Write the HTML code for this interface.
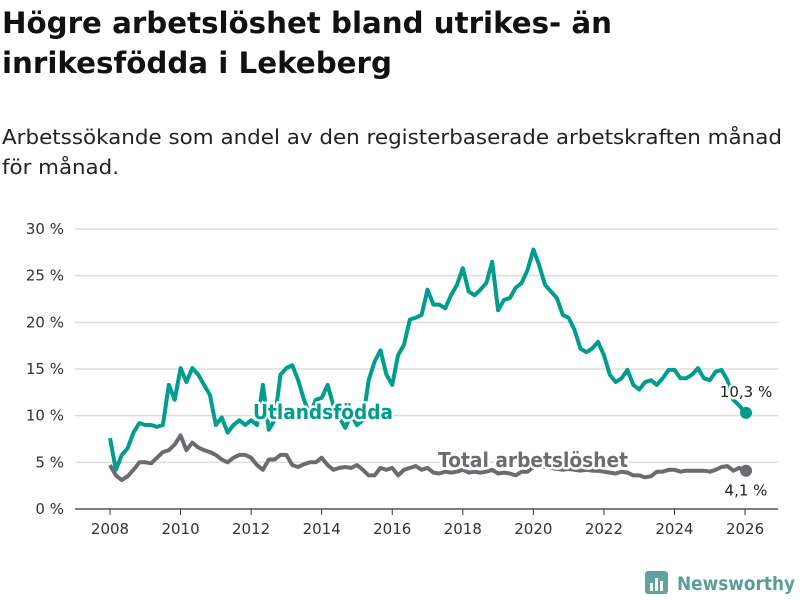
<!DOCTYPE html>
<html><head><meta charset="utf-8"><style>
body{margin:0;background:#fff;width:800px;height:600px;overflow:hidden;font-family:"DejaVu Sans","Liberation Sans",sans-serif}
svg{display:block}
</style></head><body>
<svg id="c" width="800" height="600">
<text x="2" y="33" font-size="29" font-weight="bold" fill="#111" textLength="610" lengthAdjust="spacingAndGlyphs">Högre arbetslöshet bland utrikes- än</text>
<text x="2" y="73" font-size="29" font-weight="bold" fill="#111" textLength="390" lengthAdjust="spacingAndGlyphs">inrikesfödda i Lekeberg</text>
<text x="2" y="144" font-size="20" fill="#222" textLength="780" lengthAdjust="spacingAndGlyphs">Arbetssökande som andel av den registerbaserade arbetskraften månad</text>
<text x="2" y="174" font-size="20" fill="#222" textLength="117" lengthAdjust="spacingAndGlyphs">för månad.</text>
<g id="grid"></g><g id="lines"></g><g id="labels"></g>
<g>
<rect x="645" y="571" width="23" height="23" rx="3" fill="#5fa3a0"/>
<rect x="650" y="583" width="3" height="8" fill="#fff"/><rect x="655" y="578" width="3" height="13" fill="#fff"/><rect x="660" y="581" width="3" height="10" fill="#fff"/>
<text x="677" y="590" font-size="19" font-weight="bold" fill="#5a9c9a" textLength="118" lengthAdjust="spacingAndGlyphs">Newsworthy</text>
</g>
</svg>
<script>
const startYear = 2008;
const stepYears = 1/6;
const yTicks = [0,5,10,15,20,25,30];
const xTicks = [2008,2010,2012,2014,2016,2018,2020,2022,2024,2026];
const utland = [7.6,4.2,5.8,6.5,8.2,9.2,9.0,9.0,8.8,9.0,13.3,11.7,15.1,13.6,15.1,14.4,13.3,12.2,9.0,9.8,8.2,9.0,9.5,9.0,9.5,9.0,13.3,8.5,9.5,14.4,15.1,15.4,13.8,11.7,10.1,11.7,11.9,13.3,11.1,9.8,8.7,10.1,9.0,9.5,13.8,15.8,17.0,14.4,13.3,16.5,17.6,20.3,20.5,20.8,23.5,21.9,21.9,21.5,22.9,24.0,25.8,23.3,22.9,23.5,24.2,26.5,21.3,22.4,22.6,23.7,24.2,25.6,27.8,26.1,24.0,23.3,22.6,20.8,20.5,19.2,17.2,16.8,17.2,17.9,16.5,14.4,13.6,14.0,14.9,13.3,12.8,13.6,13.8,13.3,14.0,14.9,14.9,14.0,14.0,14.4,15.1,14.0,13.8,14.7,14.9,13.8,11.7,11.1,10.3];
const total = [4.7,3.6,3.1,3.5,4.2,5.0,5.0,4.9,5.5,6.1,6.3,6.9,7.9,6.3,7.1,6.6,6.3,6.1,5.8,5.3,5.0,5.5,5.8,5.8,5.5,4.7,4.2,5.3,5.3,5.8,5.8,4.7,4.5,4.8,5.0,5.0,5.5,4.7,4.2,4.4,4.5,4.4,4.7,4.2,3.6,3.6,4.4,4.2,4.4,3.6,4.2,4.4,4.6,4.2,4.4,3.9,3.8,4.0,3.9,4.0,4.2,3.9,4.0,3.9,4.0,4.2,3.8,3.9,3.8,3.6,4.0,4.0,4.5,4.6,4.5,4.4,4.3,4.2,4.3,4.2,4.1,4.2,4.1,4.1,4.0,3.9,3.8,4.0,3.9,3.6,3.6,3.4,3.5,4.0,4.0,4.2,4.2,4.0,4.1,4.1,4.1,4.1,4.0,4.2,4.5,4.6,4.1,4.4,4.1];
const lastUtland = "10,3 %", lastTotal = "4,1 %";
const NS="http://www.w3.org/2000/svg";
const xs = t => 110 + (t-2008)*35.28;
const ys = v => 509 - v*9.333;
function mk(tag, attrs, parent){const e=document.createElementNS(NS,tag);for(const k in attrs)e.setAttribute(k,attrs[k]);parent.appendChild(e);return e;}
const grid=document.getElementById('grid'), lines=document.getElementById('lines'), labels=document.getElementById('labels');
yTicks.forEach(v=>{
  const l=mk('line',{x1:75,x2:778,y1:ys(v),y2:ys(v),stroke:v===0?'#333':'#ddd','stroke-width':v===0?1.2:1.5},grid);
  
  
  const t=mk('text',{x:64,y:ys(v)+5,'text-anchor':'end','font-size':15,fill:'#333'},grid);
  t.textContent=v+' %';
  
  
});
xTicks.forEach(y=>{
  const l=mk('line',{x1:xs(y),x2:xs(y),y1:509,y2:515,stroke:'#333','stroke-width':1},grid);
  
  
  const t=mk('text',{x:xs(y),y:534,'text-anchor':'middle','font-size':15,fill:'#333'},grid);
  t.textContent=y;
  
  
});
function series(arr,color,name){
  const d=arr.map((v,i)=>(i?'L':'M')+xs(startYear+i*stepYears).toFixed(1)+','+ys(v).toFixed(1)).join('');
  const p=mk('path',{d:d,fill:'none',stroke:color,'stroke-width':4,'stroke-linejoin':'round'},lines);
  
  
  const n=arr.length-1;
  const c=mk('circle',{cx:xs(startYear+n*stepYears)+1,cy:ys(arr[n]),r:6,fill:color},lines);
  
  
}
series(total,'#6d6b70','total');
series(utland,'#009c8e','utland');
function lab(txt,x,y,size,weight,color,name,len){
  const t=mk('text',{x:x,y:y,'font-size':size,'font-weight':weight,fill:color,'text-anchor':'middle',stroke:'#fff','stroke-width':5,'paint-order':'stroke','stroke-linejoin':'round'},labels);
  if(len){t.setAttribute('textLength',len);t.setAttribute('lengthAdjust','spacingAndGlyphs');}
  t.textContent=txt;
  
  
}
lab('Utlandsfödda',323,419,20,'bold','#009c8e','utland-series-label',140);
lab('Total arbetslöshet',533,467,20,'bold','#6d6b70','total-series-label',190);
const nU=utland.length-1;
lab(lastUtland,746,ys(utland[nU])-16,15,'normal','#222','utland-end-value');
lab(lastTotal,746,ys(total[nU])+25,15,'normal','#222','total-end-value');
</script>
</body></html>
